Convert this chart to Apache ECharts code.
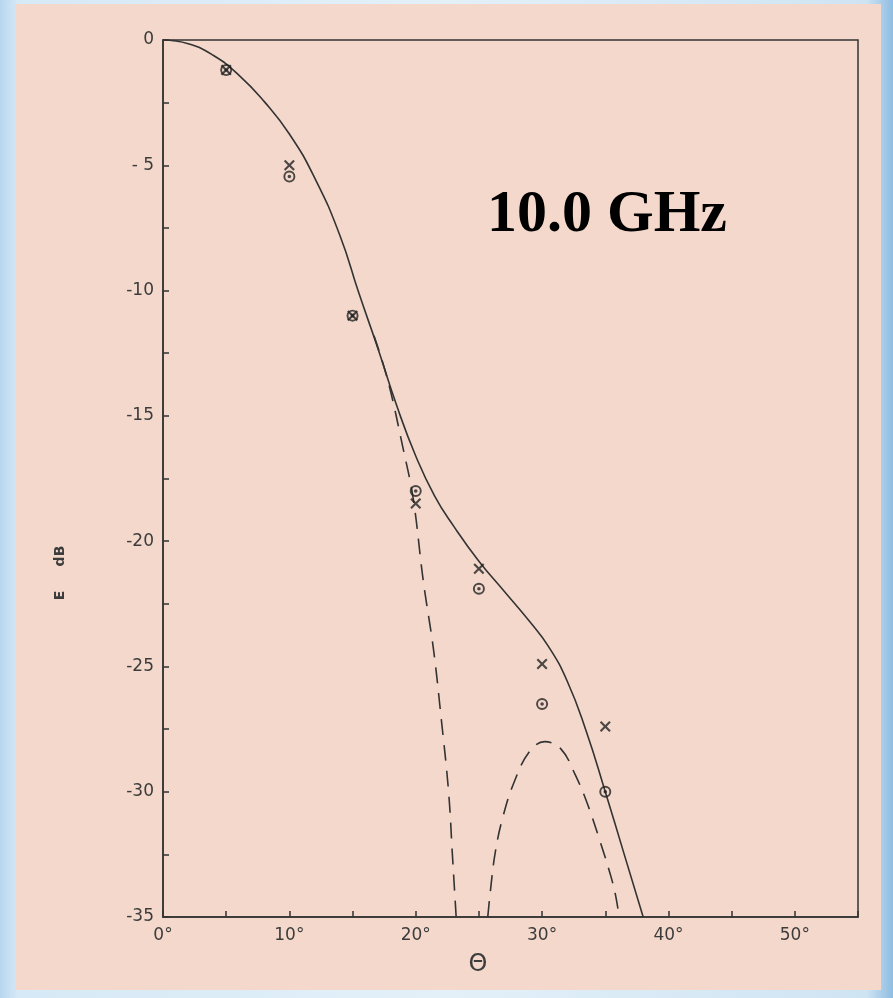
<!DOCTYPE html>
<html>
<head>
<meta charset="utf-8">
<script src="https://cdn.jsdelivr.net/npm/echarts@6/dist/echarts.min.js"></script>
<style>
html,body{margin:0;padding:0;}
body{background:linear-gradient(90deg,#b7d6ee 0%,#d6e9f6 2%,#e3f0f8 50%,#cfe4f3 97%,#8fbde2 100%);}
#chart{width:893px;height:998px;}
</style>
</head>
<body>
<div id="chart"></div>
<script>
// ---- data (theta in degrees, E in dB) ----
const solidTheta = [0, 2, 4, 6, 8, 10, 12, 14, 15.5, 17, 18.5, 20, 21.5, 23, 25, 27, 29, 30.5, 32, 33.5, 35, 36.5, 38];
const solidDb    = [0, -0.15, -0.62, -1.4, -2.45, -3.75, -5.5, -7.8, -10.1, -12.3, -14.6, -16.6, -18.2, -19.4, -20.8, -22.0, -23.2, -24.2, -25.6, -27.6, -30.0, -32.5, -35.0];

const dashMainTheta = [16.7, 17.8, 19.0, 19.8, 20.6, 21.4, 22.0, 22.6, 22.9, 23.2];
const dashMainDb    = [-11.8, -13.6, -16.3, -18.3, -21.6, -24.3, -27.0, -30.0, -32.5, -35.0];

const dashLobeTheta = [25.7, 25.9, 26.3, 26.9, 27.8, 29.0, 30.2, 31.5, 32.6, 33.6, 34.6, 35.4, 35.8, 36.1];
const dashLobeDb    = [-35.0, -34.0, -32.4, -31.0, -29.6, -28.4, -28.0, -28.3, -29.3, -30.5, -32.0, -33.3, -34.1, -35.0];

const measTheta  = [5, 10, 15, 20, 25, 30, 35];
const circleDb   = [-1.2, -5.45, -11.0, -18.0, -21.9, -26.5, -30.0];
const crossDb    = [-1.2, -5.0, -11.0, -18.5, -21.1, -24.9, -27.4];

const xTickValues = [0, 10, 20, 30, 40, 50];
const xTickLabels = ['0°', '10°', '20°', '30°', '40°', '50°'];
const yTickValues = [0, -5, -10, -15, -20, -25, -30, -35];
const yTickLabels = ['0', '- 5', '-10', '-15', '-20', '-25', '-30', '-35'];

const titleText = '10.0 GHz';
const xName = 'Θ';
const yName = 'E     dB';

// ---- build ----
const zip = (a, b) => a.map((v, i) => [v, b[i]]);
const ink = '#333333';
const lab = '#3c3c3c';
const ringPath = 'path://M0,-5A5,5,0,1,1,0,5A5,5,0,1,1,0,-5ZM0,-3.4A3.4,3.4,0,1,0,0,3.4A3.4,3.4,0,1,0,0,-3.4ZM0,-1.5A1.5,1.5,0,1,1,0,1.5A1.5,1.5,0,1,1,0,-1.5Z';
const crossPath = 'path://M-4,-2.9L-2.9,-4L0,-1.1L2.9,-4L4,-2.9L1.1,0L4,2.9L2.9,4L0,1.1L-2.9,4L-4,2.9L-1.1,0Z';

const chart = echarts.init(document.getElementById('chart'));
chart.setOption({
  animation: false,
  backgroundColor: 'transparent',
  grid: { left: 163, top: 40, right: 35, bottom: 81, show: true, borderColor: ink, borderWidth: 1.5, backgroundColor: 'transparent' },
  xAxis: {
    type: 'value', min: 0, max: 55, interval: 5,
    axisLine: { show: true, onZero: false, lineStyle: { color: ink, width: 1.5 } },
    axisTick: { show: true, inside: true, length: 6, lineStyle: { color: ink, width: 1.5 } },
    splitLine: { show: false },
    axisLabel: {
      margin: 10, color: lab, fontFamily: 'DejaVu Sans', fontSize: 17,
      formatter: v => { const i = xTickValues.indexOf(v); return i >= 0 ? xTickLabels[i] : ''; }
    }
  },
  yAxis: {
    type: 'value', min: -35, max: 0, interval: 2.5,
    axisLine: { show: true, onZero: false, lineStyle: { color: ink, width: 1.5 } },
    axisTick: { show: true, inside: true, length: 6, lineStyle: { color: ink, width: 1.5 } },
    splitLine: { show: false },
    axisLabel: {
      margin: 9, color: lab, fontFamily: 'DejaVu Sans', fontSize: 17,
      formatter: v => { const i = yTickValues.indexOf(v); return i >= 0 ? yTickLabels[i] : ''; }
    }
  },
  graphic: [
    { type: 'rect', z: -100, silent: true, shape: { x: 15, y: 4, width: 866, height: 986 }, style: { fill: '#f3d8cb' } },
    { type: 'text', left: 487, top: 185, style: { text: titleText, font: 'bold 60px "Liberation Serif"', fill: '#000' } },
    { type: 'text', x: 478, y: 965, style: { text: xName, font: '24px "DejaVu Sans"', fill: lab, align: 'center', verticalAlign: 'middle' } },
    { type: 'text', x: 60, y: 573, rotation: Math.PI / 2, style: { text: yName, font: 'bold 14px "DejaVu Sans"', fill: lab, align: 'center', verticalAlign: 'middle' } }
  ],
  series: [
    { type: 'line', data: zip(solidTheta, solidDb), smooth: 0.5, showSymbol: false, lineStyle: { color: ink, width: 1.6 }, z: 3 },
    { type: 'line', data: zip(dashMainTheta, dashMainDb), smooth: 0.4, showSymbol: false, lineStyle: { color: ink, width: 1.6, type: [16, 10] }, z: 3 },
    { type: 'line', data: zip(dashLobeTheta, dashLobeDb), smooth: 0.4, showSymbol: false, lineStyle: { color: ink, width: 1.6, type: [16, 10] }, z: 3 },
    { type: 'scatter', data: zip(measTheta, circleDb), symbol: ringPath, symbolSize: 12, itemStyle: { color: '#222' }, z: 5 },
    { type: 'scatter', data: zip(measTheta, crossDb), symbol: crossPath, symbolSize: 11, itemStyle: { color: '#222' }, z: 5 }
  ]
});
</script>
</body>
</html>
